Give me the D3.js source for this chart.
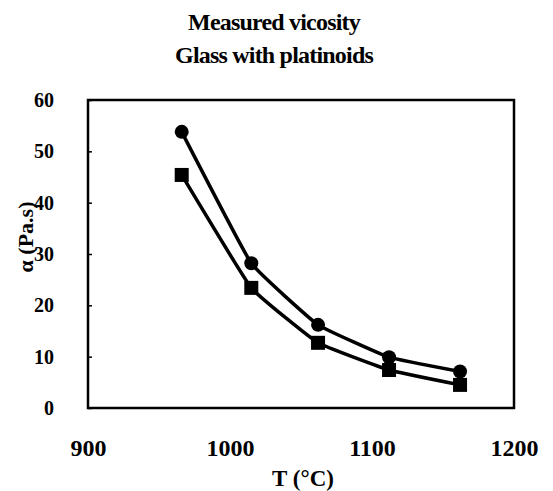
<!DOCTYPE html>
<html lang="en">
<head>
    <meta charset="UTF-8">
    <title>Measured vicosity - Glass with platinoids</title>
    <script src="https://d3js.org/d3.v7.min.js"></script>
    <style>
        body { margin: 0; background: #fff; }
        svg text { font-family: "Liberation Serif", "Times New Roman", serif; font-weight: bold; fill: #000; }
        .line { fill: none; stroke: #000; stroke-width: 3.5px; }
    </style>
</head>
<body>
    <svg class="chart"></svg>
    <script>
        var temps = [966, 1015, 1062, 1112, 1162];
        var circleVals = [53.8, 28.2, 16.2, 9.9, 7.1];
        var squareVals = [45.4, 23.4, 12.7, 7.4, 4.5];
        var xTicks = [900, 1000, 1100, 1200];
        var yTicks = [0, 10, 20, 30, 40, 50, 60];
        var titleLines = ["Measured vicosity", "Glass with platinoids"];

        var width = 553, height = 491;
        var margin = {top: 100, right: 39, bottom: 83, left: 88};

        var svg = d3.select('.chart')
                    .attr('width', width)
                    .attr('height', height);

        var x = d3.scaleLinear().domain([900, 1200]).range([margin.left, width - margin.right]);
        var y = d3.scaleLinear().domain([0, 60]).range([height - margin.bottom, margin.top]);

        // title
        svg.selectAll('.title')
           .data(titleLines)
           .enter().append('text')
           .attr('class', 'title')
           .attr('x', 274)
           .attr('y', (d, i) => 30 + i * 33)
           .attr('text-anchor', 'middle')
           .style('font-size', '24px')
           .style('letter-spacing', '-0.8px')
           .text(d => d);

        // y axis
        var yAxis = svg.append('g')
           .attr('transform', 'translate(' + margin.left + ',0)')
           .call(d3.axisLeft(y).tickValues(yTicks).tickSize(-4).tickPadding(34));
        yAxis.select('.domain').remove();
        yAxis.selectAll('line').attr('stroke', '#000').attr('stroke-width', 1.5);
        yAxis.selectAll('text').style('font-size', '20px');

        // x axis
        var xAxis = svg.append('g')
           .attr('transform', 'translate(0,' + (height - margin.bottom) + ')')
           .call(d3.axisBottom(x).tickValues(xTicks).tickFormat(d3.format('d')).tickSize(0).tickPadding(31));
        xAxis.select('.domain').remove();
        xAxis.selectAll('text').style('font-size', '24px');

        // frame
        svg.append('rect')
           .attr('x', margin.left)
           .attr('y', margin.top)
           .attr('width', width - margin.left - margin.right)
           .attr('height', height - margin.top - margin.bottom)
           .attr('fill', 'none')
           .attr('stroke', '#000')
           .attr('stroke-width', 2.5);

        // axis titles
        svg.append('text')
           .attr('x', 303)
           .attr('y', 486)
           .attr('text-anchor', 'middle')
           .style('font-size', '23px')
           .text('T (°C)');

        svg.append('text')
           .attr('transform', 'translate(33,237) rotate(-90)')
           .attr('text-anchor', 'middle')
           .style('font-size', '22px')
           .text('α (Pa.s)');

        var line = d3.line()
                     .x((d, i) => x(temps[i]))
                     .y(d => y(d))
                     .curve(d3.curveCardinal.tension(0.7));

        svg.append('path').datum(circleVals).attr('class', 'line').attr('d', line);
        svg.append('path').datum(squareVals).attr('class', 'line').attr('d', line);

        svg.selectAll('.circ')
           .data(circleVals)
           .enter().append('circle')
           .attr('class', 'circ')
           .attr('cx', (d, i) => x(temps[i]))
           .attr('cy', d => y(d))
           .attr('r', 7)
           .attr('fill', '#000');

        var s = 14;
        svg.selectAll('.sq')
           .data(squareVals)
           .enter().append('rect')
           .attr('class', 'sq')
           .attr('x', (d, i) => x(temps[i]) - s / 2)
           .attr('y', d => y(d) - s / 2)
           .attr('width', s)
           .attr('height', s)
           .attr('fill', '#000');
    </script>
</body>
</html>
